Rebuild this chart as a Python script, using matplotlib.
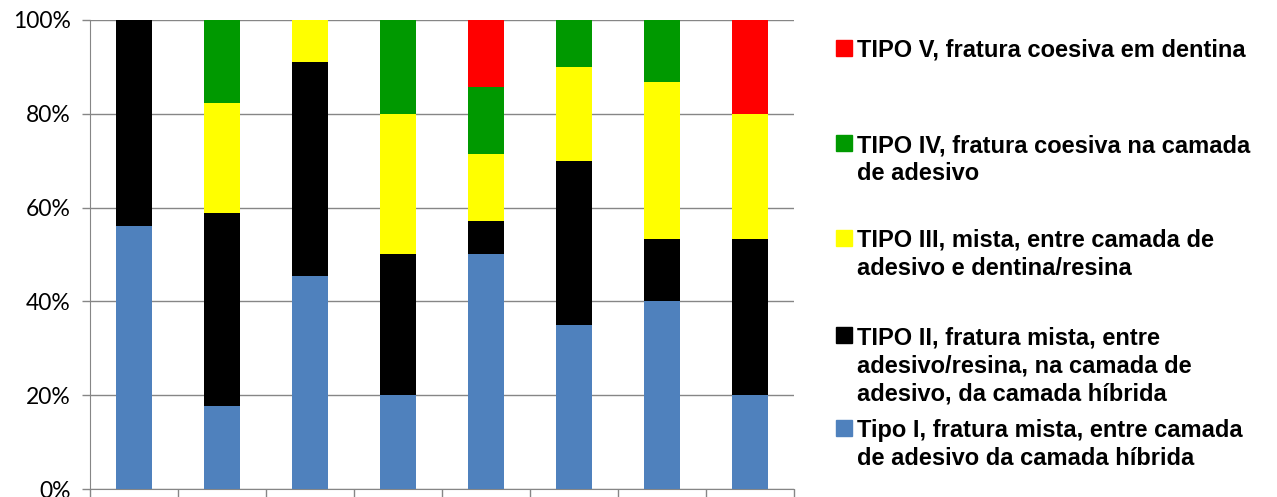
import numpy as np
import matplotlib.pyplot as plt
from matplotlib.patches import Rectangle
from matplotlib.ticker import FuncFormatter

# percentual de cada tipo de fratura por grupo (8 grupos)
grupos = np.arange(8)
tipo1 = [56.0, 17.6, 45.5, 20.0, 50.0, 35.0, 40.0, 20.0]
tipo2 = [44.0, 41.2, 45.5, 30.0, 7.1, 35.0, 13.3, 33.3]
tipo3 = [0.0, 23.5, 9.0, 30.0, 14.3, 20.0, 33.4, 26.7]
tipo4 = [0.0, 17.7, 0.0, 20.0, 14.3, 10.0, 13.3, 0.0]
tipo5 = [0.0, 0.0, 0.0, 0.0, 14.3, 0.0, 0.0, 20.0]

series = [tipo1, tipo2, tipo3, tipo4, tipo5]
cores = ['#4F81BD', '#000000', '#FFFF00', '#009900', '#FF0000']
rotulos = [
    'Tipo I, fratura mista, entre camada\nde adesivo da camada híbrida',
    'TIPO II, fratura mista, entre\nadesivo/resina, na camada de\nadesivo, da camada híbrida',
    'TIPO III, mista, entre camada de\nadesivo e dentina/resina',
    'TIPO IV, fratura coesiva na camada\nde adesivo',
    'TIPO V, fratura coesiva em dentina',
]

W, H = 1277, 497
fig = plt.figure(figsize=(W / 100, H / 100), dpi=100)
ax = fig.add_axes([90 / W, 8 / H, 704 / W, 469 / H])

base = np.zeros(len(grupos))
for vals, cor in zip(series, cores):
    ax.bar(grupos, vals, bottom=base, width=0.42, color=cor, zorder=3)
    base += np.array(vals)

ax.set_xlim(-0.5, 7.5)
ax.set_ylim(0, 100)
ax.set_yticks(np.arange(0, 101, 20))
ax.yaxis.set_major_formatter(FuncFormatter(lambda v, p: f'{v:.0f}%'))
ax.set_xticks(np.arange(-0.5, 8, 1))
ax.set_xticklabels([])
ax.grid(axis='y', color='#868686', linewidth=1, zorder=0)
for s in ['top', 'right']:
    ax.spines[s].set_visible(False)
for s in ['left', 'bottom']:
    ax.spines[s].set_color('#868686')
ax.tick_params(axis='both', color='#868686', length=6, width=1)
ax.tick_params(axis='y', labelsize=16.5, pad=8)
for lbl in ax.get_yticklabels():
    lbl.set_family('Lato')

# legenda montada manualmente (ordem: V no topo, I embaixo)
posicoes = [428, 335, 238, 143, 48]
for rot, cor, y in zip(rotulos, cores, posicoes):
    fig.patches.append(Rectangle((836 / W, 1 - (y + 8) / H), 16 / W, 16 / H,
                                 transform=fig.transFigure, color=cor))
    fig.text(857 / W, 1 - (y - 9) / H, rot, fontsize=17, fontweight='bold',
             family='Liberation Sans', va='top', ha='left', linespacing=1.29)

fig.savefig('out.png', dpi=100)
